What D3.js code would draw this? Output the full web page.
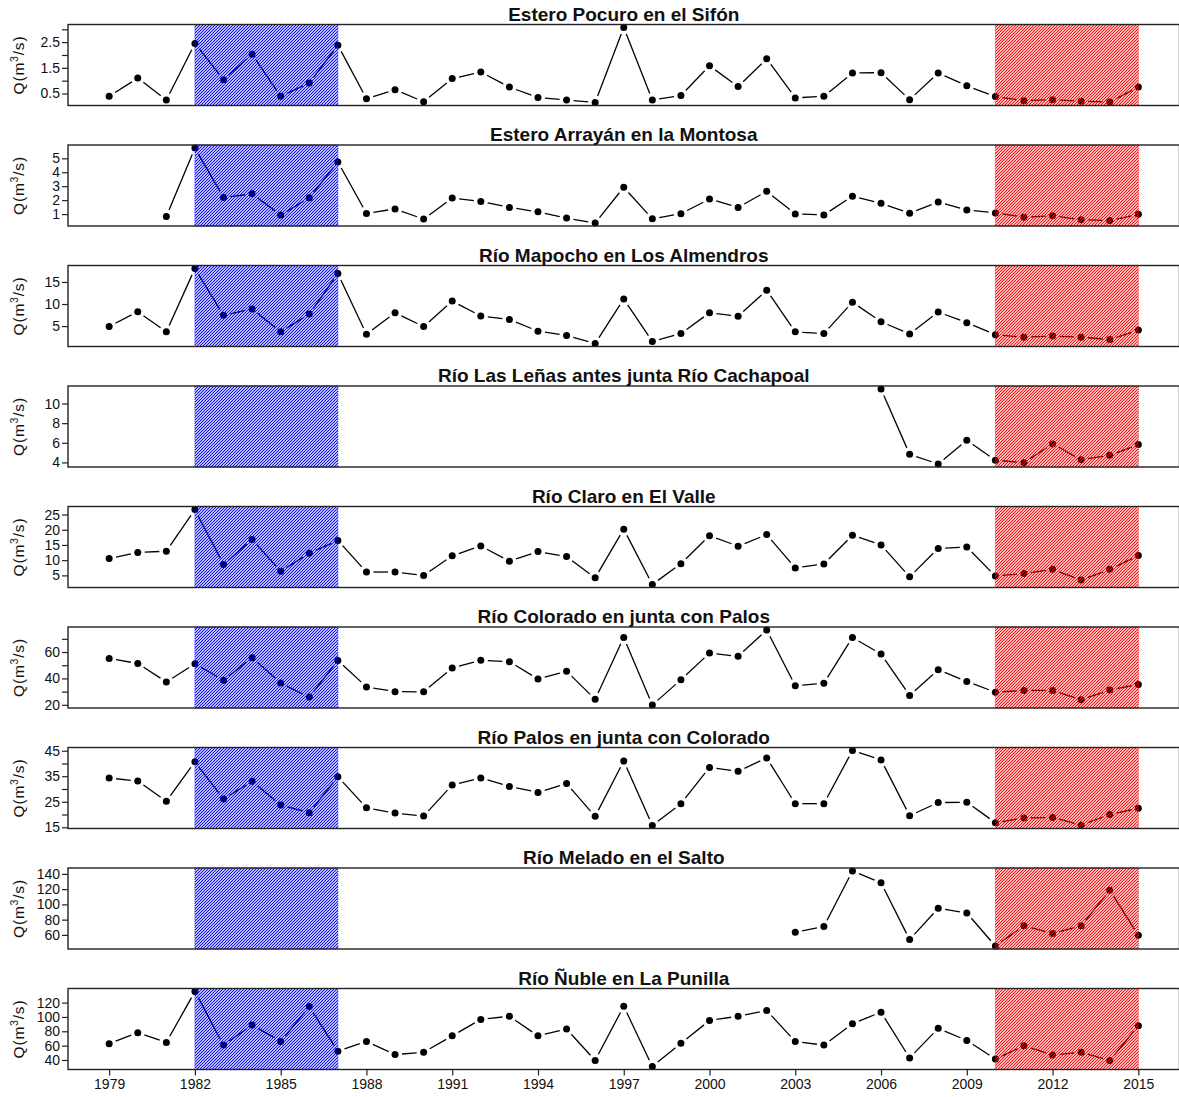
<!DOCTYPE html>
<html>
<head>
<meta charset="utf-8">
<script src="https://cdn.jsdelivr.net/npm/d3@7"></script>
<style>
  html, body { margin: 0; padding: 0; background: #fff; }
  svg { display: block; font-family: "Liberation Sans", Arial, sans-serif; }
</style>
</head>
<body>
<svg id="chart" width="1179" height="1097"></svg>
<script>
// Annual mean discharge (m3/s) at nine gauging stations, 1979-2015
const years = [1979,1980,1981,1982,1983,1984,1985,1986,1987,1988,1989,1990,1991,1992,1993,1994,1995,1996,1997,1998,1999,2000,2001,2002,2003,2004,2005,2006,2007,2008,2009,2010,2011,2012,2013,2014,2015];
const xTicks = [1979,1982,1985,1988,1991,1994,1997,2000,2003,2006,2009,2012,2015];

const stations = [
  "Estero Pocuro en el Sifón",
  "Estero Arrayán en la Montosa",
  "Río Mapocho en Los Almendros",
  "Río Las Leñas antes junta Río Cachapoal",
  "Río Claro en El Valle",
  "Río Colorado en junta con Palos",
  "Río Palos en junta con Colorado",
  "Río Melado en el Salto",
  "Río Ñuble en La Punilla"
];

const pocuro = [0.39,1.10,0.25,2.45,1.04,2.03,0.39,0.91,2.38,0.30,0.65,0.18,1.08,1.34,0.75,0.34,0.25,0.15,3.07,0.25,0.42,1.58,0.77,1.85,0.33,0.39,1.30,1.31,0.26,1.30,0.80,0.38,0.22,0.26,0.20,0.17,0.75];
const arrayan = [null,null,0.83,5.74,2.19,2.45,0.93,2.17,4.74,1.05,1.37,0.64,2.15,1.90,1.48,1.16,0.71,0.36,2.92,0.66,1.03,2.08,1.48,2.63,1.01,0.94,2.28,1.77,1.06,1.87,1.30,1.08,0.78,0.88,0.59,0.54,0.98];
const mapocho = [4.92,8.28,3.70,18.05,7.44,8.89,3.70,7.75,16.9,3.15,8.0,4.90,10.66,7.30,6.50,3.86,2.90,1.06,11.14,1.54,3.30,8.02,7.22,13.14,3.70,3.30,10.42,5.98,3.22,8.18,5.78,3.06,2.50,2.74,2.50,1.94,4.10];
const lenas = [null,null,null,null,null,null,null,null,null,null,null,null,null,null,null,null,null,null,null,null,null,null,null,null,null,null,null,11.48,4.83,3.84,6.25,4.23,3.98,5.89,4.27,4.73,5.82];
const claro = [10.52,12.51,12.96,26.66,8.54,16.82,6.33,12.29,16.49,6.1,6.1,5.0,11.42,14.69,9.67,12.82,11.19,4.18,20.2,2.0,8.85,18.07,14.6,18.4,7.45,8.74,18.2,15.0,4.53,13.87,14.34,4.77,5.58,6.98,3.48,6.98,11.53];
const colorado = [55.16,51.34,37.32,51.08,38.6,55.67,36.56,25.86,53.63,33.6,30.0,29.84,47.88,53.81,52.73,39.53,45.45,24.18,71.04,19.87,39.0,59.19,56.77,76.7,34.42,36.3,71.04,58.5,27.14,46.53,37.65,29.57,30.92,30.92,23.91,31.18,35.49];
const palos = [34.30,33.12,25.17,40.68,26.08,32.99,23.74,20.74,34.82,22.65,20.55,19.43,31.56,34.32,31.01,28.67,32.11,19.29,40.94,15.7,24.25,38.46,36.94,42.18,24.25,24.25,45.08,41.4,19.56,24.67,24.8,16.81,18.6,18.87,15.84,19.98,22.46];
const melado = [null,null,null,null,null,null,null,null,null,null,null,null,null,null,null,null,null,null,null,null,null,null,null,null,63.6,71.07,143.8,128.4,53.82,94.85,88.79,45.43,72.0,61.75,72.0,118.6,59.42];
const nuble = [62.6,78.1,64.5,135.5,60.7,88.9,65.9,114.4,52.2,65.8,47.5,50.77,73.65,96.53,101.0,73.65,83.1,39.33,114.9,30.87,63.2,95.04,101.0,108.97,65.69,60.72,90.56,106.7,42.8,84.1,67.18,41.32,59.72,46.79,50.77,39.33,87.58];

const series = [pocuro, arrayan, mapocho, lenas, claro, colorado, palos, melado, nuble];

// y ticks per station: all tick marks, and the ones carrying a label
const yTicks = [
  [0.5,1,1.5,2,2.5,3], [1,2,3,4,5], [5,10,15], [4,6,8,10], [5,10,15,20,25],
  [20,30,40,50,60,70], [15,20,25,30,35,40,45], [60,80,100,120,140], [40,60,80,100,120]
];
const yLabels = [
  [0.5,1.5,2.5], [1,2,3,4,5], [5,10,15], [4,6,8,10], [5,10,15,20,25],
  [20,40,60], [15,25,35,45], [60,80,100,120,140], [40,60,80,100,120]
];

// shaded periods
const periods = [
  {from: 1982, to: 1987, color: "#0000ff", id: "hatchBlue"},
  {from: 2010, to: 2015, color: "#ff0000", id: "hatchRed"}
];

// ---- layout ----
const left = 68, right = 1179.5;
const top0 = 24.5, step = 120.5, panelH = 81;

const svg = d3.select("#chart");
const defs = svg.append("defs");
// pixel-aligned 45° hatch tile
const tile = 3;
periods.forEach(p => {
  const pat = defs.append("pattern")
    .attr("id", p.id)
    .attr("patternUnits", "userSpaceOnUse")
    .attr("width", tile).attr("height", tile);
  pat.append("path")
    .attr("d", `M0,${tile} L${tile},0 M-1,1 L1,-1 M${tile - 1},${tile + 1} L${tile + 1},${tile - 1}`)
    .attr("stroke", p.color).attr("stroke-width", 1.05);
});

const span = years[years.length - 1] - years[0];
const x = d3.scaleLinear()
  .domain([years[0] - 0.04 * span, years[years.length - 1] + 0.04 * span])
  .range([left, right]);

const gapR = 7; // gap left between each point and its connecting segments

series.forEach((vals, i) => {
  const top = top0 + i * step;
  const bottom = top + panelH;
  const g = svg.append("g");

  const ext = d3.extent(vals.filter(v => v != null));
  const pad = 0.04 * (ext[1] - ext[0]);
  const y = d3.scaleLinear().domain([ext[0] - pad, ext[1] + pad]).range([bottom, top]);

  const pts = years.map((yr, k) => ({yr, v: vals[k]}));

  // connecting segments, broken around each point
  for (let k = 0; k < pts.length - 1; k++) {
    const a = pts[k], b = pts[k + 1];
    if (a.v == null || b.v == null) continue;
    const x1 = x(a.yr), y1 = y(a.v), x2 = x(b.yr), y2 = y(b.v);
    const L = Math.hypot(x2 - x1, y2 - y1);
    if (L <= 2 * gapR) continue;
    const ux = (x2 - x1) / L, uy = (y2 - y1) / L;
    g.append("line")
      .attr("x1", x1 + ux * gapR).attr("y1", y1 + uy * gapR)
      .attr("x2", x2 - ux * gapR).attr("y2", y2 - uy * gapR)
      .attr("stroke", "#000").attr("stroke-width", 1.3);
  }

  g.selectAll("circle.pt")
    .data(pts.filter(d => d.v != null))
    .join("circle")
    .attr("class", "pt")
    .attr("cx", d => x(d.yr)).attr("cy", d => y(d.v))
    .attr("r", 3.5).attr("fill", "#000");

  // hatched periods drawn over the series
  periods.forEach(p => {
    g.append("rect")
      .attr("x", x(p.from)).attr("y", top)
      .attr("width", x(p.to) - x(p.from)).attr("height", panelH)
      .attr("fill", `url(#${p.id})`)
      .attr("stroke", p.color).attr("stroke-width", 0.8)
      .attr("stroke-dasharray", "1,1");
  });

  // panel box
  g.append("rect")
    .attr("x", left).attr("y", top)
    .attr("width", right - left).attr("height", panelH)
    .attr("fill", "none").attr("stroke", "#222").attr("stroke-width", 1.4);

  // y axis
  const yAxis = d3.axisLeft(y)
    .tickValues(yTicks[i])
    .tickSize(6).tickPadding(2)
    .tickFormat(d => yLabels[i].includes(d) ? String(d) : "");
  const ay = g.append("g").attr("transform", `translate(${left},0)`).call(yAxis);
  ay.select(".domain").remove();
  ay.selectAll(".tick line").attr("stroke", "#222").attr("stroke-width", 1.2);
  ay.selectAll(".tick text")
    .attr("font-size", 14).attr("fill", "#111")
    .attr("font-family", "Liberation Sans, Arial, sans-serif");

  // y title Q(m3/s)
  const cy = (top + bottom) / 2;
  const yt = g.append("text")
    .attr("transform", `translate(24,${cy}) rotate(-90)`)
    .attr("text-anchor", "middle")
    .attr("font-size", 15.5).attr("fill", "#111")
    .attr("letter-spacing", 0.8);
  yt.append("tspan").text("Q(m");
  yt.append("tspan").attr("dy", -6).attr("font-size", 10.5).text("3");
  yt.append("tspan").attr("dy", 6).text("/s)");

  // panel title
  g.append("text")
    .attr("x", (left + right) / 2).attr("y", top - 4)
    .attr("text-anchor", "middle")
    .attr("font-size", 19).attr("font-weight", "bold").attr("fill", "#111")
    .text(stations[i]);

  // x axis under the last panel
  if (i === series.length - 1) {
    const xAxis = d3.axisBottom(x).tickValues(xTicks).tickSize(6).tickPadding(4)
      .tickFormat(d3.format("d"));
    const ax = g.append("g").attr("transform", `translate(0,${bottom})`).call(xAxis);
    ax.select(".domain").remove();
    ax.selectAll(".tick line").attr("stroke", "#222").attr("stroke-width", 1.2);
    ax.selectAll(".tick text")
      .attr("font-size", 14).attr("fill", "#111")
      .attr("font-family", "Liberation Sans, Arial, sans-serif");
  }
});
</script>
</body>
</html>
